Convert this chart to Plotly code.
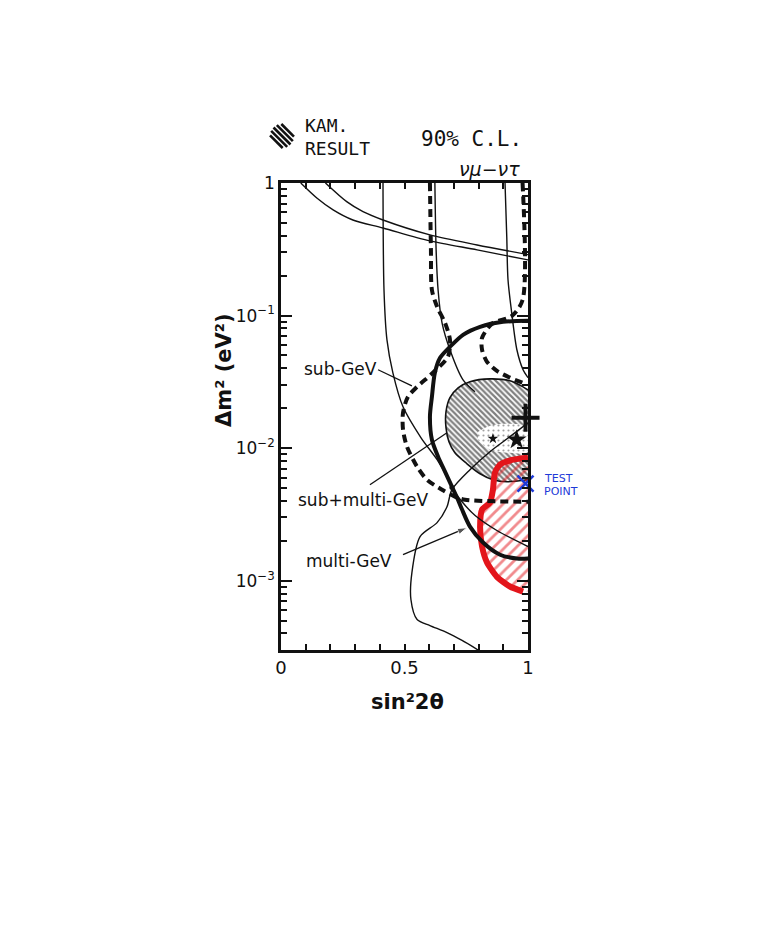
import numpy as np
import plotly.graph_objects as go

# ---------------- data (sin^2 2theta, delta m^2 in eV^2) ----------------
lineA_x = [0.080, 0.145, 0.211, 0.291, 0.413, 0.603, 0.794, 1.0]
lineA_y = [1.0, 0.771, 0.627, 0.526, 0.458, 0.366, 0.313, 0.263]
lineB_x = [0.180, 0.266, 0.332, 0.413, 0.603, 0.794, 1.0]
lineB_y = [1.0, 0.723, 0.608, 0.526, 0.406, 0.341, 0.288]

thin1_x = [0.413, 0.417, 0.429, 0.453, 0.494, 0.567, 0.632, 0.672, 0.692, 0.733, 0.786, 0.874, 1.0]
thin1_y = [1.0, 0.156, 0.0656, 0.0370, 0.0205, 0.01197, 0.00818, 0.00610, 0.00504, 0.00394, 0.00310, 0.00239, 0.00181]
thin2_x = [0.623, 0.628, 0.636, 0.652, 0.684, 0.737, 0.785]
thin2_y = [1.0, 0.313, 0.156, 0.0881, 0.0552, 0.0327, 0.0266]
thin3_x = [0.907, 0.914, 0.919, 0.934, 0.955, 0.980, 1.0]
thin3_y = [1.0, 0.394, 0.187, 0.105, 0.0552, 0.0390, 0.0340]

multi_x = [0.798, 0.733, 0.672, 0.603, 0.551, 0.526, 0.530, 0.563, 0.632, 0.672, 0.692, 0.765, 0.846, 0.927, 1.0]
multi_y = [3.0e-4, 3.54e-4, 4.06e-4, 4.59e-4, 5.09e-4, 7.21e-4, 1.15e-3, 2.15e-3, 2.74e-3, 3.61e-3, 4.86e-3, 6.87e-3, 9.40e-3, 0.0122, 0.0155]

comb_x = [1.0, 0.899, 0.806, 0.737, 0.684, 0.644, 0.623, 0.611, 0.603, 0.611, 0.636, 0.664, 0.692, 0.713, 0.733, 0.765, 0.818, 0.887, 0.955, 1.0]
comb_y = [0.0912, 0.0897, 0.0822, 0.0716, 0.0581, 0.0480, 0.0370, 0.0244, 0.0173, 0.01156, 0.00861, 0.00664, 0.00512, 0.00423, 0.00344, 0.00256, 0.00194, 0.00157, 0.00147, 0.00147]

dash1_x = [0.603, 0.607, 0.611, 0.632, 0.664, 0.684, 0.676, 0.615, 0.551, 0.514, 0.494, 0.494, 0.510, 0.551, 0.591, 0.652, 0.704, 0.745, 1.0]
dash1_y = [1.0, 0.313, 0.156, 0.1164, 0.0881, 0.0656, 0.0489, 0.0370, 0.0290, 0.0244, 0.0185, 0.01377, 0.01026, 0.00724, 0.00578, 0.00486, 0.00431, 0.00408, 0.00394]
dash2_x = [0.978, 0.978, 0.935, 0.854, 0.814, 0.814, 0.834, 0.874, 0.927, 0.978]
dash2_y = [1.0, 0.131, 0.0995, 0.0865, 0.0679, 0.0552, 0.0448, 0.0383, 0.0340, 0.0311]

kam_x = [1.0, 0.980, 0.927, 0.846, 0.765, 0.717, 0.684, 0.668, 0.668, 0.680, 0.704, 0.753, 0.806, 0.858, 0.915, 1.0]
kam_y = [0.0275, 0.0290, 0.0322, 0.0333, 0.0317, 0.0285, 0.0240, 0.0188, 0.01426, 0.01117, 0.00923, 0.00762, 0.00641, 0.00578, 0.00558, 0.00578]
patch_x = [0.797, 0.846, 0.919, 1.0, 1.0, 0.927, 0.846, 0.797]
patch_y = [0.0133, 0.01476, 0.01528, 0.01426, 0.0094, 0.00923, 0.00973, 0.01156]

red_x = [1.0, 0.939, 0.887, 0.866, 0.858, 0.846, 0.814, 0.806, 0.814, 0.834, 0.874, 0.927, 0.980, 1.0]
red_y = [0.00847, 0.00818, 0.00750, 0.00653, 0.00486, 0.00388, 0.00344, 0.00256, 0.00181, 0.00137, 0.00107, 0.000904, 0.000828, 0.000828]

ptr_sub_x = [0.393, 0.530]
ptr_sub_y = [0.039, 0.0295]
ptr_comb_x = [0.360, 0.672]
ptr_comb_y = [0.0053, 0.01306]
ptr_multi_x = [0.494, 0.753]
ptr_multi_y = [0.00157, 0.00251]

plus_pt = (0.99, 0.01695)
star_pt = (0.954, 0.01156)
small_star_pt = (0.858, 0.0118)
junction_pt = (0.692, 0.00504)
test_pt = (0.99, 0.0054)

labels = [("sub-GeV", 0.239, 0.0396), ("sub+multi-GeV", 0.332, 0.00408), ("multi-GeV", 0.277, 0.00142)]

y_tickvals = [1e-3, 1e-2, 1e-1, 1]
y_ticktext = ["10<sup>−3</sup>", "10<sup>−2</sup>", "10<sup>−1</sup>", "1"]
x_tickvals = [0, 0.5, 1]
x_ticktext = ["0", "0.5", "1"]

# ---------------- figure ----------------
BLACK = "#111111"
RED = "#e3151b"
BLUE = "#1e3ad8"
fig = go.Figure()

def line(x, y, w, dash="solid", color=BLACK, shape="spline"):
    fig.add_trace(go.Scatter(x=x, y=y, mode="lines", hoverinfo="skip",
                             line=dict(color=color, width=w, dash=dash, shape=shape, smoothing=0.8)))

# KAM hatched region
fig.add_trace(go.Scatter(x=kam_x, y=kam_y, mode="lines", fill="toself", hoverinfo="skip",
                         line=dict(color=BLACK, width=1.6, shape="spline", smoothing=0.8),
                         fillcolor="white",
                         fillpattern=dict(shape="\\", fgcolor="#000000", bgcolor="white", size=4, solidity=0.55)))
fig.add_trace(go.Scatter(x=patch_x, y=patch_y, mode="lines", fill="toself", hoverinfo="skip",
                         line=dict(color="rgba(0,0,0,0)", width=0, shape="spline"),
                         fillcolor="white",
                         fillpattern=dict(shape=".", fgcolor="#444444", bgcolor="white", size=5, solidity=0.15)))

# red hatched region
fig.add_trace(go.Scatter(x=red_x, y=red_y, mode="lines", fill="toself", hoverinfo="skip",
                         line=dict(color="rgba(0,0,0,0)", width=0),
                         fillcolor="rgba(0,0,0,0)",
                         fillpattern=dict(shape="/", fgcolor=RED, bgcolor="rgba(0,0,0,0)", size=8, solidity=0.35)))
fig.add_trace(go.Scatter(x=red_x[:-1], y=red_y[:-1], mode="lines", hoverinfo="skip",
                         line=dict(color=RED, width=6, shape="spline", smoothing=0.6)))

# thin curves
line(lineA_x, lineA_y, 1.4)
line(lineB_x, lineB_y, 1.4)
line(thin1_x, thin1_y, 1.4)
line(thin2_x, thin2_y, 1.4)
line(thin3_x, thin3_y, 1.4)
line(multi_x, multi_y, 1.4)
# thick combined contour
line(comb_x, comb_y, 4)
# dashed contours
line(dash1_x, dash1_y, 4, dash="8px,5px")
line(dash2_x, dash2_y, 4, dash="8px,5px")

# pointers
line(ptr_sub_x, ptr_sub_y, 1.3, shape="linear")
line(ptr_comb_x, ptr_comb_y, 1.3, shape="linear")
fig.add_trace(go.Scatter(x=ptr_multi_x, y=ptr_multi_y, mode="lines+markers", hoverinfo="skip",
                         line=dict(color=BLACK, width=1.3),
                         marker=dict(symbol=["circle", "arrow"], size=[0, 10], color=BLACK,
                                     angleref="previous")))

# markers
def marker(pt, symbol, size, color=BLACK, lw=0):
    fig.add_trace(go.Scatter(x=[pt[0]], y=[pt[1]], mode="markers", hoverinfo="skip", cliponaxis=False,
                             marker=dict(symbol=symbol, size=size, color=color,
                                         line=dict(color=color, width=lw))))

marker(junction_pt, "circle", 5)
marker(small_star_pt, "star", 8)
marker(star_pt, "star", 15)
marker(plus_pt, "cross-thin", 20, lw=4)
marker(test_pt, "x-thin", 16, color=BLUE, lw=2.5)

# ---------------- annotations ----------------
ann = []
for txt, lx, ly in labels:
    ann.append(dict(x=lx, y=np.log10(ly), xref="x", yref="y", text=txt, showarrow=False,
                    xanchor="center", yanchor="middle",
                    font=dict(family="DejaVu Sans", size=17, color=BLACK)))

# layout in window pixels (plot area: x 281..528, y 183..650)
def pap(px, py):
    return (px - 281) / 247.0, (650 - py) / 467.0

def note(px, py, text, family, size, color=BLACK, xanchor="center", angle=0):
    x, y = pap(px, py)
    ann.append(dict(x=x, y=y, xref="paper", yref="paper", text=text, showarrow=False,
                    xanchor=xanchor, yanchor="middle", textangle=angle, borderpad=0,
                    font=dict(family=family, size=size, color=color)))

note(407, 702, "<b>sin²2θ</b>", "DejaVu Sans", 21)
note(224, 370, "<b>Δm² (eV²)</b>", "DejaVu Sans", 21, angle=-90)
note(304, 126, "KAM.", "DejaVu Sans Mono", 18, xanchor="left")
note(304, 149, "RESULT", "DejaVu Sans Mono", 18, xanchor="left")
note(471, 139, "90% C.L.", "DejaVu Sans Mono", 21)
note(489, 169, "<i>νμ−ντ</i>", "DejaVu Sans", 19)
note(543, 478, "TEST", "DejaVu Sans", 11, color=BLUE, xanchor="left")
note(543, 491, "POINT", "DejaVu Sans", 11, color=BLUE, xanchor="left")

# legend hatch glyph (decoration)
shapes = []
cx, cy, r = 282, 136, 12
for d in [-8, -4, 0, 4, 8]:
    h = np.sqrt(r * r - d * d)
    mx, my = cx + d / np.sqrt(2), cy - d / np.sqrt(2)
    x0, y0 = pap(mx - h / np.sqrt(2), my - h / np.sqrt(2))
    x1, y1 = pap(mx + h / np.sqrt(2), my + h / np.sqrt(2))
    shapes.append(dict(type="line", xref="paper", yref="paper", x0=x0, y0=y0, x1=x1, y1=y1,
                       line=dict(color=BLACK, width=2.6)))

y_minor = [m * 10.0 ** k for k in range(-4, 0) for m in range(2, 10)]

# page body has an 8px margin: shrink the figure so the plot area lands where the reference has it
fig.update_layout(
    width=754, height=919,
    margin=dict(l=273, r=234, t=175, b=277),
    paper_bgcolor="white", plot_bgcolor="white",
    showlegend=False,
    annotations=ann, shapes=shapes,
    xaxis=dict(range=[0, 1], showgrid=False, zeroline=False, showline=True, linecolor=BLACK, linewidth=2.5,
               mirror="allticks", ticks="inside", ticklen=6, tickwidth=1.8, tickcolor=BLACK,
               tickvals=x_tickvals, ticktext=x_ticktext,
               tickfont=dict(family="DejaVu Sans", size=18, color=BLACK),
               minor=dict(ticks="inside", ticklen=6, tickwidth=1.8, tickcolor=BLACK, dtick=0.1, showgrid=False)),
    yaxis=dict(type="log", range=[np.log10(3e-4), 0], showgrid=False, zeroline=False, showline=True,
               linecolor=BLACK, linewidth=2.5, mirror="allticks", ticks="inside", ticklen=11, tickwidth=2,
               tickcolor=BLACK, tickvals=y_tickvals, ticktext=y_ticktext,
               tickfont=dict(family="DejaVu Sans", size=17, color=BLACK),
               minor=dict(ticks="inside", ticklen=6, tickwidth=1.6, tickcolor=BLACK,
                          tickvals=y_minor, showgrid=False)),
)

fig.write_html("out.html")
